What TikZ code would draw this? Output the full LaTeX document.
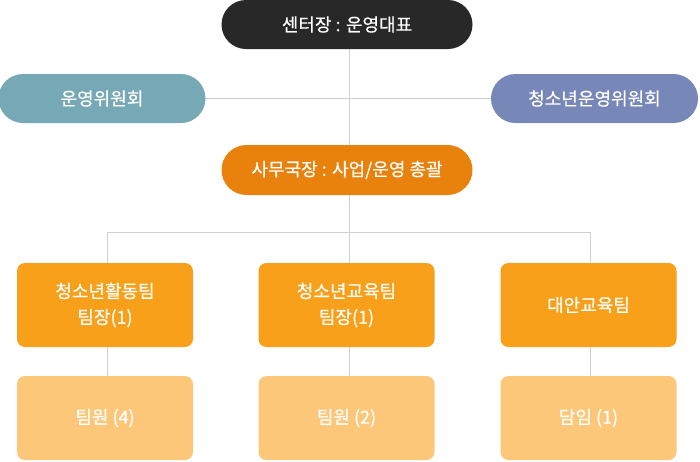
\documentclass[tikz,border=0pt]{standalone}
\usepackage{fontspec}
\setmainfont{Noto Sans CJK KR}
\newfontfamily\kfont{Noto Sans CJK KR}[FakeBold=0.4]
\definecolor{cdark}{HTML}{282828}
\definecolor{cteal}{HTML}{77A8B6}
\definecolor{cpurple}{HTML}{7787B8}
\definecolor{corange}{HTML}{E9820C}
\definecolor{cbox}{HTML}{F8A01A}
\definecolor{clight}{HTML}{FDC77A}
\definecolor{cline}{HTML}{D0D0D0}
\begin{document}
\begin{tikzpicture}[x=1pt,y=-1pt,
  pill/.style={rounded corners=24.5pt, inner sep=0pt, text=white, font=\kfont\fontsize{18}{18}\selectfont},
  teambox/.style={rounded corners=8pt, inner sep=0pt, text=white, align=center, minimum width=176pt, minimum height=84pt, font=\kfont\fontsize{18}{26}\selectfont},
  conn/.style={draw=cline, line width=0.9pt}]
\useasboundingbox (0,0) rectangle (700,461);
\coordinate (jl) at (107,232);
\coordinate (jr) at (590,232);
\coordinate (jm) at (349,232);
% connectors (drawn first, nodes on top)
\coordinate (ceoS) at (349,48);
\coordinate (secN) at (349,146);
\coordinate (secS) at (349,194);
\coordinate (comE) at (200,98.5);
\coordinate (youE) at (495,98.5);
\draw[conn] (ceoS) -- (secN);
\draw[conn] (comE) -- (youE);
\draw[conn] (secS) -- (jm);
\draw[conn] (jl) -- (jr);
\coordinate (t1N) at (107,264);
\coordinate (t2N) at (349,264);
\coordinate (t3N) at (590,264);
\draw[conn] (jl) -- (t1N);
\draw[conn] (jm) -- (t2N);
\draw[conn] (jr) -- (t3N);
\coordinate (t1S) at (107,346);
\coordinate (t2S) at (349,346);
\coordinate (t3S) at (590,346);
\coordinate (m1N) at (107,377);
\coordinate (m2N) at (349,377);
\coordinate (m3N) at (590,377);
\draw[conn] (t1S) -- (m1N);
\draw[conn] (t2S) -- (m2N);
\draw[conn] (t3S) -- (m3N);
% nodes
\node[pill, fill=cdark, minimum width=251pt, minimum height=49pt] (ceo) at (347,24.5) {센터장 : 운영대표};
\node[pill, fill=cteal, minimum width=207pt, minimum height=49pt] (com) at (102,98.5) {운영위원회};
\node[pill, fill=cpurple, minimum width=207pt, minimum height=49pt] (youth) at (594.5,98.5) {청소년운영위원회};
\node[pill, fill=corange, minimum width=251pt, minimum height=50pt, rounded corners=25pt] (sec) at (347,170) {사무국장 : 사업/운영 총괄};
\node[teambox, fill=cbox] (t1) at (105,305) {청소년활동팀\\팀장(1)};
\node[teambox, fill=cbox] (t2) at (346.5,305) {청소년교육팀\\팀장(1)};
\node[teambox, fill=cbox] (t3) at (588.5,305) {대안교육팀};
\node[teambox, fill=clight] (m1) at (105,418) {팀원 (4)};
\node[teambox, fill=clight] (m2) at (346.5,418) {팀원 (2)};
\node[teambox, fill=clight] (m3) at (588.5,418) {담임 (1)};
\end{tikzpicture}
\end{document}
